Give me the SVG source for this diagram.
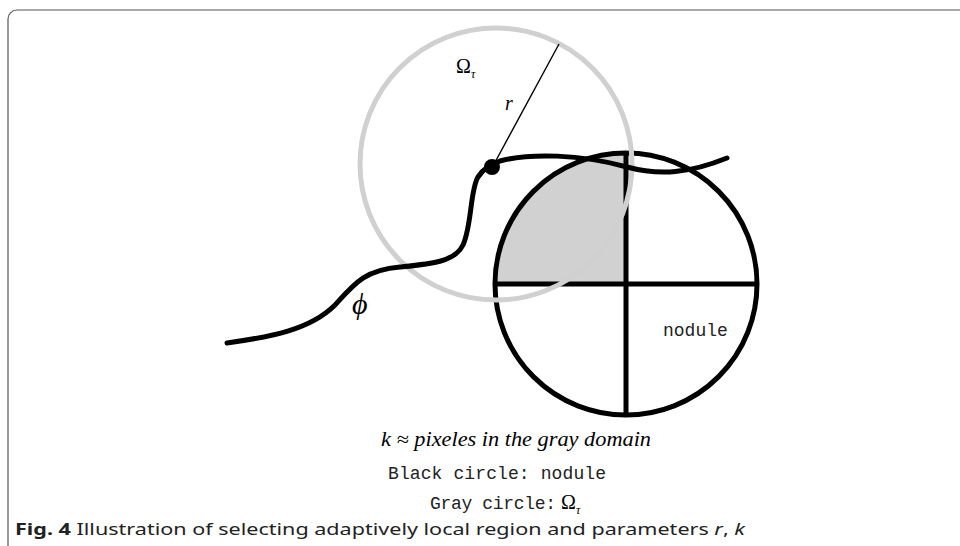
<svg xmlns="http://www.w3.org/2000/svg" width="960" height="546" viewBox="0 0 960 546">
<style>
.serif{font-family:"Liberation Serif","DejaVu Serif",serif;fill:#000}
.mono{font-family:"Liberation Mono","DejaVu Sans Mono",monospace;fill:#222;font-size:18px}
.thick{fill:none;stroke:#000;stroke-width:5}
</style>
<rect x="8" y="10" width="1000" height="600" rx="9" fill="none" stroke="#555" stroke-width="1.2"/>
<g id="nodule">
<path d="M626 284 L495 284 A131 131 0 0 1 626 153 Z" fill="#d0d1d0"/>
<circle class="thick" cx="626" cy="284" r="131"/>
<line class="thick" x1="495" y1="284" x2="757" y2="284"/>
<line class="thick" x1="626" y1="153" x2="626" y2="415"/>
<text class="mono" x="663" y="336">nodule</text>
</g>
<g id="omega">
<circle cx="496" cy="164" r="136" fill="none" stroke="#cfd0cf" stroke-width="5"/>
<text class="serif" x="456" y="73" font-size="20">Ω<tspan font-size="12" font-style="italic" dy="5">τ</tspan></text>
</g>
<g id="connectors">
<path class="thick" stroke-linecap="round" d="M227 343 C270 337 310 330 335 305 C355 283 365 270 400 267 C430 264 455 262 463 245 C472 225 470 190 478 177 C484 168 490 165 500 161 C530 153 580 154 627 167 C660 176 690 173 727 158"/>
<line x1="493" y1="166" x2="559" y2="44" stroke="#000" stroke-width="1.4"/>
</g>
<g id="point">
<circle cx="492" cy="167" r="8" fill="#000"/>
</g>
<text class="serif" x="505" y="110" font-size="20" font-style="italic">r</text>
<text class="serif" x="352" y="314" font-size="30" font-style="italic">ϕ</text>
<text class="serif" x="381" y="446" font-size="20" font-style="italic" textLength="270" lengthAdjust="spacingAndGlyphs">k ≈ pixeles in  the gray domain</text>
<text class="mono" x="388" y="479" font-size="17.5" textLength="218">Black circle: nodule</text>
<text class="mono" x="430" y="509" font-size="17.5" textLength="126">Gray circle:</text>
<text class="serif" x="561" y="509" font-size="20">Ω<tspan font-size="12" font-style="italic" dy="5">τ</tspan></text>
<text x="15" y="535" font-family="'Noto Sans','Open Sans',sans-serif" font-size="16" fill="#222" textLength="730" lengthAdjust="spacingAndGlyphs"><tspan font-weight="bold">Fig. 4</tspan>  Illustration of selecting adaptively local region and parameters <tspan font-style="italic">r</tspan>, <tspan font-style="italic">k</tspan></text>
</svg>
